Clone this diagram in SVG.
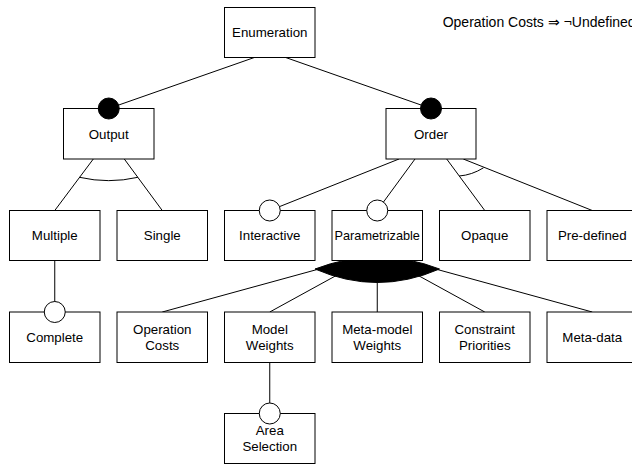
<svg xmlns="http://www.w3.org/2000/svg" width="632" height="466" viewBox="0 0 632 466">
<style>
.box{fill:#fff;stroke:#000;stroke-width:1}
.ln{fill:none;stroke:#000;stroke-width:1}
.mand{fill:#000;stroke:#000;stroke-width:1}
.opt{fill:#fff;stroke:#000;stroke-width:1}
text{font-family:"Liberation Sans",Arial,Helvetica,sans-serif;font-size:13.3px;fill:#000;text-anchor:middle}
.small{font-size:12.7px}
.note{font-size:14px;text-anchor:start}
</style>
<rect width="632" height="466" fill="#fff"/>
<g id="connectors">
<line class="ln" x1="254.3" y1="57.5" x2="108.75" y2="108.5"/>
<line class="ln" x1="285.7" y1="57.5" x2="431" y2="108.5"/>
<line class="ln" x1="93.3" y1="159" x2="54.75" y2="210.5"/>
<line class="ln" x1="124.3" y1="159" x2="162.25" y2="210.5"/>
<path class="ln" d="M79.5,177.3 Q108.7,184 137.9,177.3"/>
<line class="ln" x1="54.75" y1="260.5" x2="54.75" y2="312"/>
<line class="ln" x1="399" y1="159" x2="269.75" y2="210.5"/>
<line class="ln" x1="415" y1="159" x2="377.25" y2="210.5"/>
<line class="ln" x1="446.7" y1="159" x2="484.75" y2="210.5"/>
<line class="ln" x1="463.3" y1="159" x2="592.25" y2="210.5"/>
<path class="ln" d="M459.2,176 Q472,175 483.5,167.8"/>
<line class="ln" x1="377.25" y1="253" x2="162.25" y2="312"/>
<line class="ln" x1="377.25" y1="253" x2="269.75" y2="312"/>
<line class="ln" x1="377.25" y1="253" x2="377.25" y2="312"/>
<line class="ln" x1="377.25" y1="253" x2="484.75" y2="312"/>
<line class="ln" x1="377.25" y1="253" x2="592.25" y2="312"/>
<path fill="#000" stroke="#000" stroke-width="1" d="M315,269 Q377.25,245 439.5,269 Q377.25,296 315,269 Z"/>
<line class="ln" x1="269.75" y1="362.5" x2="269.75" y2="413.5"/>
</g>
<g id="enumeration"><rect class="box" x="224.5" y="7.5" width="90.5" height="50"/><text x="269.75" y="37">Enumeration</text></g>
<g id="output"><rect class="box" x="63.5" y="108.5" width="90.5" height="50.5"/><circle class="mand" cx="108.75" cy="108.5" r="10.5"/><text x="108.75" y="138.5">Output</text></g>
<g id="order"><rect class="box" x="386" y="108.5" width="90" height="50.5"/><circle class="mand" cx="431" cy="108.5" r="10.5"/><text x="431" y="138.5">Order</text></g>
<g id="multiple"><rect class="box" x="9.5" y="210.5" width="90.5" height="50"/><text x="54.75" y="240.2">Multiple</text></g>
<g id="single"><rect class="box" x="117" y="210.5" width="90.5" height="50"/><text x="162.25" y="240.2">Single</text></g>
<g id="interactive"><rect class="box" x="224.5" y="210.5" width="90.5" height="50"/><circle class="opt" cx="269.75" cy="210.5" r="10.5"/><text x="269.75" y="240.2">Interactive</text></g>
<g id="parametrizable"><rect class="box" x="332" y="210.5" width="90.5" height="50"/><circle class="opt" cx="377.25" cy="210.5" r="10.5"/><text class="small" x="377.25" y="240">Parametrizable</text></g>
<g id="opaque"><rect class="box" x="439.5" y="210.5" width="90.5" height="50"/><text x="484.75" y="240.2">Opaque</text></g>
<g id="predefined"><rect class="box" x="547" y="210.5" width="90.5" height="50"/><text x="592.25" y="240.2">Pre-defined</text></g>
<g id="complete"><rect class="box" x="9.5" y="312" width="90.5" height="50.5"/><circle class="opt" cx="54.75" cy="312" r="10.5"/><text x="54.75" y="341.8">Complete</text></g>
<g id="operationcosts"><rect class="box" x="117" y="312" width="90.5" height="50.5"/><text x="162.25" y="333.8">Operation</text><text x="162.25" y="349.8">Costs</text></g>
<g id="modelweights"><rect class="box" x="224.5" y="312" width="90.5" height="50.5"/><text x="269.75" y="333.8">Model</text><text x="269.75" y="349.8">Weights</text></g>
<g id="metamodelweights"><rect class="box" x="332" y="312" width="90.5" height="50.5"/><text x="377.25" y="333.8">Meta-model</text><text x="377.25" y="349.8">Weights</text></g>
<g id="constraintpriorities"><rect class="box" x="439.5" y="312" width="90.5" height="50.5"/><text x="484.75" y="333.8">Constraint</text><text x="484.75" y="349.8">Priorities</text></g>
<g id="metadata"><rect class="box" x="547" y="312" width="90.5" height="50.5"/><text x="592.25" y="341.8">Meta-data</text></g>
<g id="areaselection"><rect class="box" x="224.5" y="413.5" width="90.5" height="50"/><circle class="opt" cx="269.75" cy="413.5" r="10.5"/><text x="269.75" y="435.2">Area</text><text x="269.75" y="450.8">Selection</text></g>
<g id="constraint"><text class="note" x="442.7" y="27">Operation Costs ⇒ ¬Undefined</text></g>
</svg>
